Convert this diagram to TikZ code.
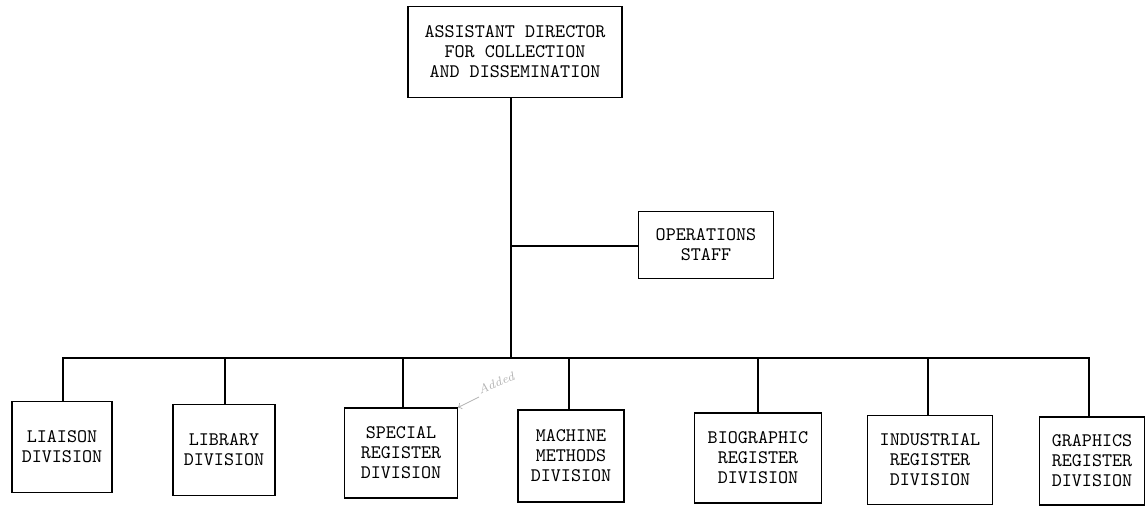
\documentclass[tikz,border=0pt]{standalone}
\usetikzlibrary{positioning}

\begin{document}
\begin{tikzpicture}[x=0.02cm, y=-0.02cm,
    every node/.style={font=\ttfamily\fontsize{10.9}{11.4}\selectfont},
    unit/.style={draw, line width=0.6pt, align=center, inner sep=0pt},
    link/.style={line width=1.1pt}]
    \useasboundingbox (0,0) rectangle (1147,506);
    % head and staff
    \node[unit, minimum width=4.28cm, minimum height=1.82cm] (ad) at (515,52) {ASSISTANT DIRECTOR\\FOR COLLECTION\\AND DISSEMINATION};
    \node[unit, minimum width=2.7cm, minimum height=1.34cm] (ops) at (706,245) {OPERATIONS\\STAFF};
    % divisions
    \node[unit, minimum width=2.0cm, minimum height=1.82cm] (liaison) at (62,447) {LIAISON\\DIVISION};
    \node[unit, minimum width=2.04cm, minimum height=1.82cm] (library) at (224,450) {LIBRARY\\DIVISION};
    \node[unit, minimum width=2.26cm, minimum height=1.8cm] (special) at (401,453) {SPECIAL\\REGISTER\\DIVISION};
    \node[unit, minimum width=2.12cm, minimum height=1.84cm] (machine) at (571,456) {MACHINE\\METHODS\\DIVISION};
    \node[unit, minimum width=2.54cm, minimum height=1.8cm] (bio) at (758,458) {BIOGRAPHIC\\REGISTER\\DIVISION};
    \node[unit, minimum width=2.5cm, minimum height=1.78cm] (industrial) at (930,460) {INDUSTRIAL\\REGISTER\\DIVISION};
    \node[unit, minimum width=2.1cm, minimum height=1.76cm] (graphics) at (1092,461) {GRAPHICS\\REGISTER\\DIVISION};
    % connectors
    \coordinate (bus) at (511,358);
    \coordinate (opsjoin) at (511,246);
    \draw[link] (ad.south -| bus) -- (bus);
    \draw[link] (opsjoin) -- (opsjoin -| ops.west);
    \draw[link] (liaison.north -| 63,0) |- (bus) -| (graphics.north -| 1089,0);
    \foreach \n/\x in {library/225, special/403, machine/569, bio/758, industrial/928}
      \draw[link] (\x,358) -- (\n.north -| \x,0);
    % pencil note
    \coordinate (note) at (479,397);
    \draw[gray!60, line width=0.5pt, ->] (note) -- (special.north east);
    \node[gray!60, font=\itshape\scriptsize, rotate=22, anchor=south west, inner sep=1pt] at (note) {Added};
\end{tikzpicture}
\end{document}
